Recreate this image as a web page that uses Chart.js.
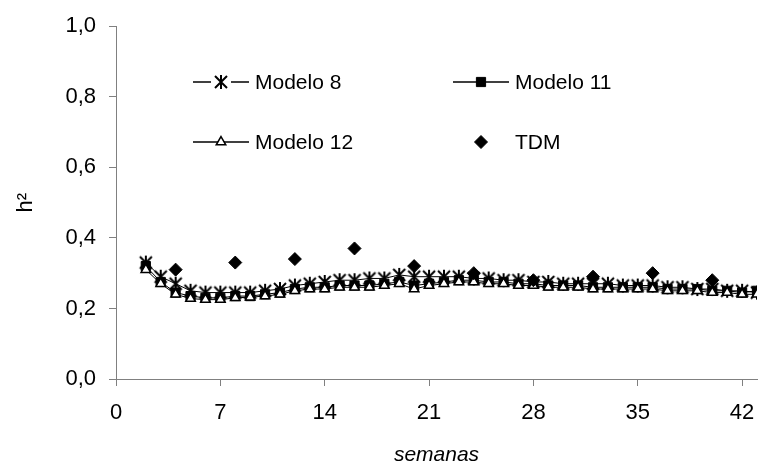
<!DOCTYPE html>
<html>
<head>
<meta charset="utf-8">
<script src="https://cdn.jsdelivr.net/npm/chart.js@4/dist/chart.umd.min.js"></script>
<style>
  html, body { margin: 0; padding: 0; background: #fff; }
  canvas { display: block; }
</style>
</head>
<body>
<canvas id="h2Chart" width="766" height="470"></canvas>
<script>
// semanas (eixo x)
const weeks = [2, 3, 4, 5, 6, 7, 8, 9, 10, 11, 12, 13, 14, 15, 16, 17, 18, 19, 20, 21, 22,
  23, 24, 25, 26, 27, 28, 29, 30, 31, 32, 33, 34, 35, 36, 37, 38, 39, 40, 41, 42, 43];

const modelo8 = [0.33, 0.29, 0.27, 0.25, 0.245, 0.245, 0.245, 0.245, 0.25, 0.255, 0.265, 0.27,
  0.275, 0.28, 0.28, 0.285, 0.285, 0.295, 0.29, 0.29, 0.29, 0.29, 0.285, 0.285, 0.28, 0.28,
  0.275, 0.275, 0.27, 0.27, 0.27, 0.27, 0.265, 0.265, 0.265, 0.26, 0.26, 0.255, 0.255, 0.25, 0.25, 0.245];

const modelo11 = [0.32, 0.275, 0.245, 0.235, 0.23, 0.23, 0.235, 0.235, 0.24, 0.245, 0.255, 0.26,
  0.26, 0.265, 0.265, 0.265, 0.27, 0.275, 0.265, 0.27, 0.275, 0.28, 0.28, 0.275, 0.275, 0.27,
  0.27, 0.265, 0.265, 0.265, 0.26, 0.26, 0.26, 0.26, 0.26, 0.255, 0.255, 0.255, 0.25, 0.25, 0.245, 0.25];

const modelo12 = [0.31, 0.27, 0.24, 0.228, 0.225, 0.225, 0.23, 0.232, 0.235, 0.24, 0.25, 0.255,
  0.255, 0.26, 0.26, 0.26, 0.265, 0.27, 0.255, 0.265, 0.27, 0.275, 0.275, 0.27, 0.27, 0.265,
  0.265, 0.26, 0.26, 0.26, 0.255, 0.255, 0.255, 0.255, 0.255, 0.25, 0.25, 0.25, 0.245, 0.245, 0.24, 0.24];

// TDM (pontos isolados)
const tdmWeeks = [4, 8, 12, 16, 20, 24, 28, 32, 36, 40];
const tdm = [0.31, 0.33, 0.34, 0.37, 0.32, 0.30, 0.28, 0.29, 0.30, 0.28];

// ticks
const xTicks = [0, 7, 14, 21, 28, 35, 42];
const yTicks = [0, 0.2, 0.4, 0.6, 0.8, 1.0];
const yTickLabels = ['0,0', '0,2', '0,4', '0,6', '0,8', '1,0'];

const FONT = "'Liberation Sans', Arial, sans-serif";
Chart.defaults.font.family = FONT;
Chart.defaults.color = '#000';

// marcador do Modelo 8 : X com barra vertical
function asteriskMarker() {
  const c = document.createElement('canvas');
  c.width = 16; c.height = 16;
  const g = c.getContext('2d');
  g.strokeStyle = '#000';
  g.lineWidth = 2;
  g.beginPath();
  g.moveTo(2, 2); g.lineTo(14, 14);
  g.moveTo(14, 2); g.lineTo(2, 14);
  g.moveTo(8, 1); g.lineTo(8, 15);
  g.stroke();
  return c;
}
const star = asteriskMarker();

const toXY = (xs, ys) => xs.map((x, i) => ({ x: x, y: ys[i] }));

// legenda dentro da área do gráfico
const insideLegend = {
  id: 'insideLegend',
  afterDraw(chart) {
    const ctx = chart.ctx;
    const items = [
      { ds: 0, x: 193, y: 82, len: 56 },
      { ds: 1, x: 453, y: 82, len: 56 },
      { ds: 2, x: 193, y: 142, len: 56 },
      { ds: 3, x: 453, y: 142, len: 56 }
    ];
    ctx.save();
    ctx.textBaseline = 'middle';
    items.forEach(it => {
      const d = chart.data.datasets[it.ds];
      const cx = it.x + it.len / 2;
      if (d.showLine !== false) {
        ctx.strokeStyle = '#000';
        ctx.lineWidth = 1.3;
        ctx.beginPath();
        ctx.moveTo(it.x, it.y);
        ctx.lineTo(it.x + it.len, it.y);
        ctx.stroke();
      }
      if (d.pointStyle === star) {
        ctx.fillStyle = '#fff';
        ctx.fillRect(cx - 10, it.y - 8, 20, 16);
      }
      ctx.fillStyle = d.pointBackgroundColor;
      ctx.strokeStyle = d.pointBorderColor;
      ctx.lineWidth = d.pointBorderWidth || 1;
      Chart.helpers.drawPoint(ctx, {
        pointStyle: d.pointStyle,
        radius: d.pointRadius,
        borderWidth: d.pointBorderWidth || 1
      }, cx, it.y);
      ctx.font = '21px ' + FONT;
      ctx.fillStyle = '#000';
      ctx.fillText(d.label, it.x + 62, it.y + 1);
    });
    ctx.restore();
  }
};

new Chart(document.getElementById('h2Chart'), {
  type: 'line',
  data: {
    datasets: [
      {
        label: 'Modelo 8',
        data: toXY(weeks, modelo8),
        borderColor: '#000', borderWidth: 1,
        pointStyle: star, pointRadius: 8,
        pointBackgroundColor: '#000', pointBorderColor: '#000',
        order: 3
      },
      {
        label: 'Modelo 11',
        data: toXY(weeks, modelo11),
        borderColor: '#000', borderWidth: 1,
        pointStyle: 'rect', pointRadius: 6.5, pointBorderWidth: 1,
        pointBackgroundColor: '#000', pointBorderColor: '#000',
        order: 2
      },
      {
        label: 'Modelo 12',
        data: toXY(weeks, modelo12),
        borderColor: '#000', borderWidth: 1,
        pointStyle: 'triangle', pointRadius: 5.5, pointBorderWidth: 1.5,
        pointBackgroundColor: '#fff', pointBorderColor: '#000',
        order: 1
      },
      {
        label: 'TDM',
        data: toXY(tdmWeeks, tdm),
        showLine: false,
        pointStyle: 'rectRot', pointRadius: 6.5, pointBorderWidth: 1,
        pointBackgroundColor: '#000', pointBorderColor: '#000',
        order: 0
      }
    ]
  },
  options: {
    responsive: false,
    animation: false,
    layout: { padding: { top: 25, right: 3, left: 0, bottom: 0 } },
    plugins: {
      legend: { display: false },
      tooltip: { enabled: false }
    },
    scales: {
      x: {
        type: 'linear',
        min: 0, max: 43,
        afterBuildTicks: s => { s.ticks = xTicks.map(v => ({ value: v })); },
        afterFit: s => { s.height = 91; s.paddingRight = 0; s.paddingLeft = 0; },
        border: { color: '#808080', width: 1 },
        grid: { display: true, drawOnChartArea: false, color: '#808080', tickLength: 7 },
        ticks: { font: { size: 22 }, padding: 14, maxRotation: 0 },
        title: { display: true, text: 'semanas', font: { size: 21, style: 'italic' }, padding: { top: 4, bottom: 2 } }
      },
      y: {
        min: 0, max: 1,
        afterBuildTicks: s => { s.ticks = yTicks.map(v => ({ value: v })); },
        afterFit: s => { s.width = 116; },
        border: { color: '#808080', width: 1 },
        grid: { display: true, drawOnChartArea: false, color: '#808080', tickLength: 7 },
        ticks: {
          font: { size: 22 }, padding: 13,
          callback: v => yTickLabels[yTicks.indexOf(v)]
        },
        title: { display: true, text: 'h²', font: { size: 22 }, padding: { top: 13, bottom: 0 } }
      }
    }
  },
  plugins: [insideLegend]
});
</script>
</body>
</html>
